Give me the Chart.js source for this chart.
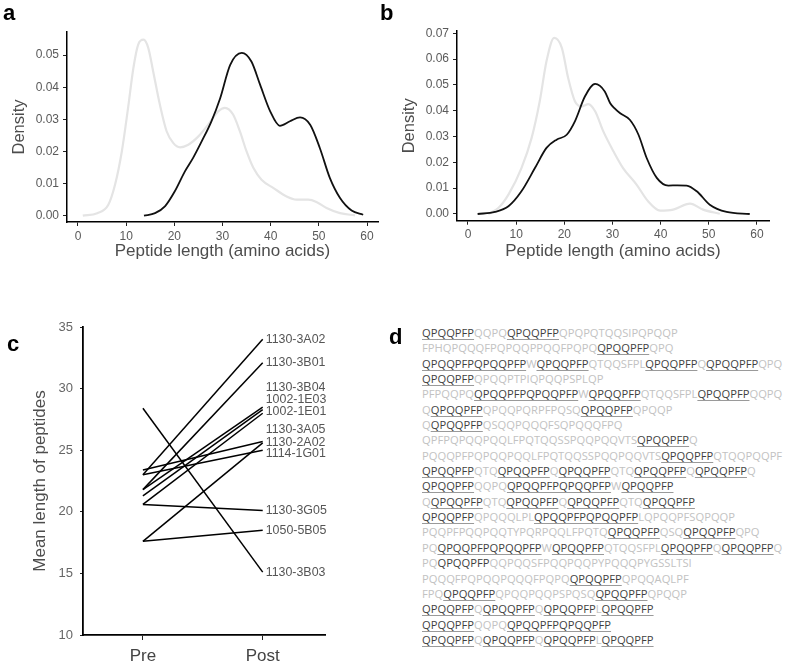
<!DOCTYPE html>
<html>
<head>
<meta charset="utf-8">
<script src="https://cdn.jsdelivr.net/npm/chart.js@4.4.0/dist/chart.umd.min.js"></script>
<style>
  body { margin: 0; background: #fff; }
  #page { position: relative; width: 787px; height: 665px; overflow: hidden; font-family: "Liberation Sans", Arial, sans-serif; }
  canvas { position: absolute; }
  .lettre { position: absolute; font: bold 22px "Liberation Sans", Arial, sans-serif; line-height: 22px; color: #000; }
  #sequence { position: absolute; left: 422px; top: 325px; font: 11.2px "Open Sans", sans-serif; line-height: 15.35px; color: #c2c2c2; white-space: pre; }
  #sequence .m { color: #3f3f3f; text-decoration: underline; text-decoration-color: #9a9a9a; text-underline-offset: 2px; }
  #sequence .n { color: #3f3f3f; }
</style>
</head>
<body>
<div id="page">
  <canvas id="graphique-a" width="390" height="265" style="left:0;top:0"></canvas>
  <canvas id="graphique-b" width="397" height="265" style="left:390px;top:0"></canvas>
  <canvas id="graphique-c" width="390" height="365" style="left:0;top:300px"></canvas>
  <div class="lettre" style="left:3px;top:2px">a</div>
  <div class="lettre" style="left:380px;top:2px">b</div>
  <div class="lettre" style="left:7px;top:333px">c</div>
  <div class="lettre" style="left:389px;top:326px">d</div>
  <div id="sequence"></div>
</div>
<script>
// ── Donnees ──────────────────────────────────────────────────
const xTicks = [0, 10, 20, 30, 40, 50, 60];
const aYTicks = [0, 0.01, 0.02, 0.03, 0.04, 0.05];
const bYTicks = [0, 0.01, 0.02, 0.03, 0.04, 0.05, 0.06, 0.07];

// panneau a : densite des longueurs (gris clair / noir)
const aGrisX = [1, 4, 6.3, 7.7, 9.1, 10.4, 11.5, 12.5, 13.6, 14.6, 15.6, 17.0, 18.4, 19.8, 21.2, 22.9, 25.0, 27.0, 29.1, 30.5, 32.2, 33.6, 35.0, 36.4, 38.1, 40.6, 43.3, 45.4, 47.8, 49.5, 51.6, 54.4, 57.5];
const aGrisY = [0, 0.0008, 0.0034, 0.0097, 0.020, 0.0336, 0.046, 0.0533, 0.0548, 0.0522, 0.045, 0.0346, 0.0263, 0.0226, 0.0213, 0.0221, 0.0247, 0.0283, 0.0325, 0.0336, 0.0315, 0.0263, 0.020, 0.0149, 0.0112, 0.0086, 0.006, 0.005, 0.005, 0.0043, 0.0024, 0.0008, 0.0001];
const aNoirX = [13.7, 16.0, 18.1, 20.1, 22.2, 23.9, 25.7, 27.7, 29.5, 31.6, 34.0, 36.0, 37.8, 39.9, 41.9, 44.0, 46.1, 48.2, 50.2, 52.3, 54.4, 56.8, 59.2];
const aNoirY = [0, 0.0008, 0.003, 0.0076, 0.0138, 0.018, 0.0232, 0.0294, 0.0365, 0.047, 0.0507, 0.048, 0.0408, 0.0325, 0.028, 0.0294, 0.0306, 0.0283, 0.0211, 0.0117, 0.0055, 0.0016, 0.0003];

// panneau b
const bGrisX = [4.2, 6.3, 8.4, 11.1, 13.2, 14.9, 16.3, 17.9, 19.5, 20.8, 22.2, 23.6, 25.0, 26.4, 28.1, 30.2, 32.2, 35.0, 37.4, 39.9, 42.6, 46.1, 48.8, 52.3];
const bGrisY = [0, 0.0023, 0.0075, 0.0178, 0.0294, 0.0437, 0.0592, 0.0682, 0.0643, 0.0527, 0.0437, 0.0417, 0.0426, 0.0398, 0.032, 0.0243, 0.0178, 0.0114, 0.0049, 0.0013, 0.0017, 0.004, 0.0017, 0.0001];
const bNoirX = [2.0, 5.6, 8.4, 11.1, 13.9, 16.3, 18.4, 20.5, 22.2, 24.3, 26.4, 28.4, 29.5, 30.4, 31.6, 33.6, 35.4, 37.1, 39.2, 41.6, 43.5, 45.4, 47.5, 50.2, 53.7, 58.5];
const bNoirY = [0, 0.0008, 0.003, 0.0088, 0.0178, 0.0256, 0.0288, 0.0307, 0.0359, 0.0456, 0.0504, 0.0475, 0.043, 0.041, 0.039, 0.0365, 0.0307, 0.0217, 0.014, 0.011, 0.0111, 0.011, 0.0088, 0.0036, 0.0008, 0];

// panneau c : longueur moyenne avant / apres
const temps = ['Pre', 'Post'];
const cYTicks = [10, 15, 20, 25, 30, 35];
const lignees = ['1130-3A02', '1130-3B01', '1130-3B04', '1002-1E03', '1002-1E01', '1130-3A05', '1130-2A02', '1114-1G01', '1130-3G05', '1050-5B05', '1130-3B03'];
const moyennePre  = [23.0, 21.8, 21.8, 21.3, 20.6, 23.4, 17.6, 23.0, 20.6, 17.6, 28.4];
const moyennePost = [34.0, 32.1, 28.5, 28.3, 28.0, 25.7, 25.6, 25.0, 20.1, 18.5, 15.1];
// hauteur des etiquettes (decalees comme dans la figure)
const hauteurEtiquette = [34.0, 32.1, 30.1, 29.1, 28.15, 26.7, 25.6, 24.7, 20.1, 18.5, 15.1];

// panneau d : [motif souligne]  {motif sans soulignement}
const sequences = [
  '[QPQQPFP]QQPQ[QPQQPFP]QPQPQTQQSIPQPQQP',
  'FPHQPQQQFPQPQQPPQQFPQPQ[QPQQPFP]QPQ',
  '[QPQQPFPQPQQPFP]W[QPQQPFP]QTQQSFPL[QPQQPFP]Q[QPQQPFP]QPQ',
  '[QPQQPFP]QPQQPTPIQPQQPSPLQP',
  'PFPQQPQ[QPQQPFPQPQQPFP]W[QPQQPFP]QTQQSFPL[QPQQPFP]QQPQ',
  'Q[QPQQPFP]QPQQPQRPFPQSQ[QPQQPFP]QPQQP',
  'Q[QPQQPFP]QSQQPQQQFSQPQQQFPQ',
  'QPFPQPQQPQQLFPQTQQSSPQQPQQVTS[QPQQPFP]Q',
  'PQQQPFPQPQQPQQLFPQTQQSSPQQPQQVTS[QPQQPFP]QTQQPQQPF',
  '[QPQQPFP]QTQ[QPQQPFP]Q[QPQQPFP]QTQ[QPQQPFP]Q[QPQQPFP]Q',
  '[QPQQPFP]QQPQ[QPQQPFPQPQQPFP]W[QPQQPFP]',
  'Q[QPQQPFP]QTQ[QPQQPFP]Q[QPQQPFP]QTQ[QPQQPFP]',
  '[QPQQPFP]QPQQQLPL[QPQQPFPQPQQPFP]LQPQQPFSQPQQP',
  'PQQPFPQQPQQTYPQRPQQLFPQTQ[QPQQPFP]QSQ[QPQQPFP]QPQ',
  'PQ[QPQQPFPQPQQPFP]W[QPQQPFP]QTQQSFPL[QPQQPFP]Q[QPQQPFP]Q',
  'PQ{QPQQPFP}QQPQQSFPQQPQQPYPQQQPYGSSLTSI',
  'PQQQFPQPQQPQQQFPQPQ[QPQQPFP]QPQQAQLPF',
  'FPQ[QPQQPFP]QPQQPQQPSPQSQ[QPQQPFP]QPQQP',
  '[QPQQPFP]Q[QPQQPFP]Q[QPQQPFP]L[QPQQPFP]',
  '[QPQQPFP]QQPQ[QPQQPFPQPQQPFP]',
  '[QPQQPFP]Q[QPQQPFP]Q[QPQQPFP]L[QPQQPFP]'
];

Chart.defaults.font.family = '"Liberation Sans", Arial, sans-serif';

/**
 * Cree un graphique de densite (panneaux a et b).
 */
function creerDensite(idCanvas, grisX, grisY, noirX, noirY, yTicks, reglages) {
    const contexte = document.getElementById(idCanvas).getContext('2d');
    const points = (xs, ys) => xs.map((x, i) => ({ x: x, y: ys[i] }));

    return new Chart(contexte, {
        type: 'line',
        data: {
            datasets: [
                // le noir en premier : dessine au-dessus
                { data: points(noirX, noirY), borderColor: '#111', borderWidth: 1.8,
                  pointRadius: 0, cubicInterpolationMode: 'monotone', fill: false },
                { data: points(grisX, grisY), borderColor: '#e4e4e4', borderWidth: 2.2,
                  pointRadius: 0, cubicInterpolationMode: 'monotone', fill: false }
            ]
        },
        options: {
            responsive: false,
            animation:  false,
            events:     [],
            layout: { padding: reglages.padding },
            plugins: { legend: { display: false }, tooltip: { enabled: false } },
            scales: {
                x: {
                    type: 'linear',
                    min: reglages.xMin, max: reglages.xMax,
                    afterBuildTicks: s => { s.ticks = xTicks.map(v => ({ value: v })); },
                    afterFit: s => { s.height = reglages.hauteurX; },
                    grid:   { drawOnChartArea: false, tickLength: 4, color: '#222' },
                    border: { color: '#000', width: 1.5 },
                    ticks:  { font: { size: 12 }, color: '#5a5a5a', padding: 3, maxRotation: 0 },
                    title:  { display: true, text: 'Peptide length (amino acids)',
                              font: { size: 17 }, color: '#4d4d4d', padding: { top: 0, bottom: 3 } }
                },
                y: {
                    min: reglages.yMin, max: reglages.yMax,
                    afterBuildTicks: s => { s.ticks = yTicks.map(v => ({ value: v })); },
                    afterFit: s => { s.width = 67; },
                    grid:   { drawOnChartArea: false, tickLength: 4, color: '#222' },
                    border: { color: '#000', width: 1.5 },
                    ticks:  { font: { size: 12 }, color: '#5a5a5a', padding: 4, callback: v => v.toFixed(2) },
                    title:  { display: true, text: 'Density',
                              font: { size: 16.5 }, color: '#4d4d4d', padding: { top: 10, bottom: 0 } }
                }
            }
        }
    });
}

creerDensite('graphique-a', aGrisX, aGrisY, aNoirX, aNoirY, aYTicks, {
    padding: { left: 0, top: 32, right: 12, bottom: 0 },
    hauteurX: 43, xMin: -2.28, xMax: 62.28, yMin: -0.00196, yMax: 0.0572
});

creerDensite('graphique-b', bGrisX, bGrisY, bNoirX, bNoirY, bYTicks, {
    padding: { left: 0, top: 31, right: 18, bottom: 0 },
    hauteurX: 44.3, xMin: -2.28, xMax: 62.5, yMin: -0.0026, yMax: 0.0709
});

// Etiquettes des lignees a droite du point "Post"
const pluginEtiquettes = {
    id: 'etiquettes',
    afterDatasetsDraw(chart) {
        const { ctx, scales: { x, y } } = chart;
        ctx.save();
        ctx.font = '12.4px "Liberation Sans", Arial, sans-serif';
        ctx.fillStyle = '#555';
        ctx.textBaseline = 'middle';
        lignees.forEach((nom, i) => {
            ctx.fillText(nom, x.getPixelForValue(2) + 3, y.getPixelForValue(hauteurEtiquette[i]));
        });
        ctx.restore();
    }
};

new Chart(document.getElementById('graphique-c').getContext('2d'), {
    type: 'line',
    data: {
        datasets: lignees.map((nom, i) => ({
            label: nom,
            data: [{ x: 1, y: moyennePre[i] }, { x: 2, y: moyennePost[i] }],
            borderColor: '#000', borderWidth: 1.5, pointRadius: 0, fill: false
        }))
    },
    options: {
        responsive: false,
        animation:  false,
        events:     [],
        layout: { padding: { left: 0, top: 27, right: 65, bottom: 0 } },
        plugins: { legend: { display: false }, tooltip: { enabled: false } },
        scales: {
            x: {
                type: 'linear', min: 0.5, max: 2.52,
                afterBuildTicks: s => { s.ticks = [1, 2].map(v => ({ value: v })); },
                afterFit: s => { s.height = 30; },
                grid:   { drawOnChartArea: false, tickLength: 5, color: '#222' },
                border: { color: '#000', width: 1.8 },
                ticks:  { font: { size: 17 }, color: '#444', padding: 6, callback: v => temps[v - 1] }
            },
            y: {
                min: 10, max: 35,
                afterBuildTicks: s => { s.ticks = cYTicks.map(v => ({ value: v })); },
                afterFit: s => { s.width = 83; },
                grid:   { drawOnChartArea: false, tickLength: 3, color: '#222' },
                border: { color: '#000', width: 1.8 },
                ticks:  { font: { size: 13 }, color: '#666', padding: 7 },
                title:  { display: true, text: 'Mean length of peptides',
                          font: { size: 17 }, color: '#4d4d4d', padding: { top: 30, bottom: 0 } }
            }
        }
    },
    plugins: [pluginEtiquettes]
});

// Panneau d : texte des sequences
document.getElementById('sequence').innerHTML = sequences
    .map(s => s.replace(/\[([A-Z]+)\]/g, '<span class="m">$1</span>')
               .replace(/\{([A-Z]+)\}/g, '<span class="n">$1</span>'))
    .join('\n');
</script>
</body>
</html>
